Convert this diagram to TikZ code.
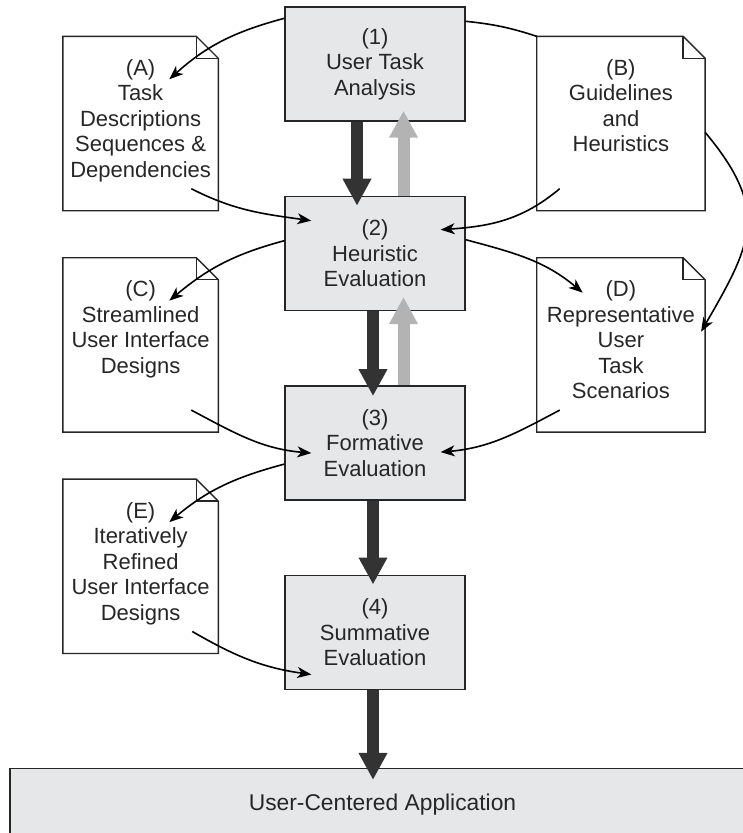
\documentclass[tikz,border=0pt]{standalone}
\usepackage{fontspec}
\setmainfont{Liberation Sans}
\usepackage{xcolor}
\usepackage{tikz}
\usetikzlibrary{arrows.meta, positioning, calc}
\definecolor{boxgray}{HTML}{E6E7E9}
\definecolor{ink}{HTML}{262626}
\definecolor{darkflow}{HTML}{333333}
\definecolor{lightflow}{HTML}{B3B3B3}
\tikzstyle{stage} = [rectangle, minimum width=180pt, minimum height=114pt, align=center, draw=ink, line width=1.4pt, fill=boxgray, text=ink, font=\fontsize{22}{25.5}\selectfont]
\tikzstyle{doc} = [rectangle, minimum width=155pt, minimum height=174pt, inner sep=0pt]
\tikzstyle{wide doc} = [doc, minimum width=168pt]
\tikzstyle{doctext} = [inner sep=0pt, align=center, text=ink, font=\fontsize{22}{25.5}\selectfont]
\tikzstyle{flow} = [line width=12pt, draw=darkflow, -{Triangle[width=27pt,length=27pt]}]
\tikzstyle{back} = [flow, draw=lightflow]
\tikzstyle{link} = [line width=1.6pt, draw=black, -{Stealth[length=14pt,width=11pt,inset=4pt]}]

\begin{document}
\begin{tikzpicture}[x=1pt, y=-1pt]
    \useasboundingbox (0,0) rectangle (743,833);

    % stages of the process
    \node[stage] (step1) at (375,64) {(1)\\User Task\\Analysis};
    \node[stage, below=74pt of step1] (step2) {(2)\\Heuristic\\Evaluation};
    \node[stage, below=74pt of step2] (step3) {(3)\\Formative\\Evaluation};
    \node[stage, below=74pt of step3] (step4) {(4)\\Summative\\Evaluation};
    \node[stage, minimum width=745pt, minimum height=72pt, below=78pt of step4, xshift=7.5pt, font=\fontsize{22.8}{26}\selectfont] (app) {User-Centered Application};

    % documents
    \node[doc, below left=30pt and 66pt of step1.north west] (docA) {};
    \node[doc, below=47pt of docA] (docC) {};
    \node[doc, below=47pt of docC] (docE) {};
    \node[wide doc, below right=30pt and 71pt of step1.north east] (docB) {};
    \node[wide doc, below=47pt of docB] (docD) {};

    \foreach \d in {docA,docC,docE,docB,docD}{
        \draw[line width=1.4pt, draw=ink, line join=miter]
            (\d.north west) -- ($(\d.north east)+(-22,0)$) -- ($(\d.north east)+(0,22)$)
            -- (\d.south east) -- (\d.south west) -- cycle;
        \draw[line width=1.4pt, draw=ink]
            ($(\d.north east)+(-22,0)$) -- ($(\d.north east)+(-22,22)$) -- ($(\d.north east)+(0,22)$);
    }

    \node[doctext, below=23pt of docA.north] (txtA) {(A)\\Task\\Descriptions\\Sequences \&\\Dependencies};
    \node[doctext, below=23pt of docC.north] (txtC) {(C)\\Streamlined\\User Interface\\Designs};
    \node[doctext, below=23pt of docE.north] (txtE) {(E)\\Iteratively\\Refined\\User Interface\\Designs};
    \node[doctext, below=23pt of docB.north] (txtB) {(B)\\Guidelines\\and\\Heuristics};
    \node[doctext, below=23pt of docD.north] (txtD) {(D)\\Representative\\User\\Task\\Scenarios};

    % main flow
    \draw[flow] ($(step1.south)+(-18,0)$) -- ($(step2.north)+(-18,10)$);
    \draw[back] ($(step2.north)+(28.5,0)$) -- ($(step1.south)+(28.5,-11)$);
    \draw[flow] ($(step2.south)+(-2,0)$) -- ($(step3.north)+(-2,11)$);
    \draw[back] ($(step3.north)+(28.5,0)$) -- ($(step2.south)+(28.5,-14)$);
    \draw[flow] ($(step3.south)+(-2,0)$) -- ($(step4.north)+(-2,10)$);
    \draw[flow] ($(step4.south)+(-2,0)$) -- ($(step4.south |- app.north)+(-2,12)$);

    % documents in and out
    \draw[link] ($(step1.north west)+(0,12)$) to[out=195,in=42] ($(docA.north east)+(-49,43)$);
    \draw[link] ($(docA.south east)+(-27,-22)$) to[out=-27,in=172] ($(step2.north west)+(27,25)$);
    \draw[link] ($(step2.north west)+(0,45)$) to[out=195,in=40] ($(docC.north east)+(-49,43)$);
    \draw[link] ($(docC.south east)+(-27,-22)$) to[out=-28,in=175] ($(step3.north west)+(27,68)$);
    \draw[link] ($(step3.north west)+(0,79)$) to[out=195,in=40] ($(docE.north east)+(-49,43)$);
    \draw[link] ($(docE.south east)+(-26,-22)$) to[out=-30,in=172] ($(step4.north west)+(27,100)$);

    \draw[line width=1.6pt] ($(step1.north east)+(0,15)$) to[bend left=6] (docB.north west);
    \draw[link] ($(docB.south west)+(23,-22)$) to[out=220,in=4] ($(step2.north east)+(-25,34)$);
    \draw[link] ($(step2.north east)+(0,44)$) to[out=-15,in=140] ($(docD.north west)+(46,35)$);
    \draw[link] ($(docB.north east)+(0,96)$) to[out=-50,in=60,looseness=1.3] ($(docD.north east)+(-4,74)$);
    \draw[link] ($(docD.south west)+(23,-22)$) to[out=208,in=5] ($(step3.north east)+(-25,67)$);
\end{tikzpicture}
\end{document}
